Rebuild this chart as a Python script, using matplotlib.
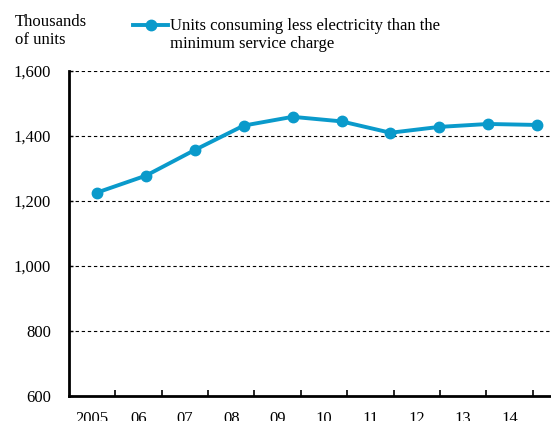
import numpy as np
import matplotlib
matplotlib.use("Agg")
import matplotlib.pyplot as plt

# Units consuming less electricity than the minimum service charge (thousands)
years = ["2005", "06", "07", "08", "09", "10", "11", "12", "13", "14"]
units = [1226, 1278, 1357, 1432, 1459, 1445, 1410, 1428, 1437, 1434]
yticks = [600, 800, 1000, 1200, 1400, 1600]

plt.rcParams['font.family'] = ['Liberation Serif', 'DejaVu Serif']
blue = '#0a9acb'
fs = 12

W, H = 551, 421
fig = plt.figure(figsize=(W / 100, H / 100), dpi=100)

left_px, right_px, top_px, bot_px = 69, 553, 71, 396
rect = [left_px / W, 1 - bot_px / H, (right_px - left_px) / W, (bot_px - top_px) / H]
ax = fig.add_axes(rect)

x = np.arange(len(units))
# points sit slightly wider apart than the category labels
pt0, pt_step = 97, 48.9
ax.set_xlim((left_px - pt0) / pt_step, (right_px - pt0) / pt_step)
ax.set_ylim(600, 1600)
ax.plot(x, units, color=blue, lw=2.8, marker='o', ms=7.5, clip_on=False, zorder=3)

ax.set_yticks(yticks)
ax.set_yticklabels([f"{v:,}" for v in yticks])
ax.tick_params(axis='y', direction='in', length=3, width=1, pad=13, labelsize=fs)
ax.set_xticks([])
for v in yticks[1:]:
    ax.axhline(v, color='black', lw=0.8, ls=(0, (3, 2.5)), zorder=1)

for s in ['right', 'top']:
    ax.spines[s].set_visible(False)
ax.spines['left'].set_linewidth(2)
ax.spines['bottom'].set_linewidth(2)

# category axis for the year labels and tick marks
ax2 = ax.twiny()
lab0, lab_step = 92, 46.4
ax2.set_xlim((left_px - lab0) / lab_step, (right_px - lab0) / lab_step)
ax2.xaxis.set_ticks_position('bottom')
ax2.set_xticks(np.arange(len(years)) + 0.5)
ax2.set_xticklabels([])
ax2.set_xticks(np.arange(len(years)), minor=True)
ax2.set_xticklabels(years, minor=True)
ax2.tick_params(axis='x', which='major', direction='in', length=4, width=1.2)
ax2.tick_params(axis='x', which='minor', length=0, pad=11, labelsize=fs)
for s in ax2.spines.values():
    s.set_visible(False)

fig.text(15 / W, 1 - 14 / H, "Thousands\nof units", ha='left', va='top',
         fontsize=fs, linespacing=1.2)

# legend drawn by hand
fig.add_artist(plt.Line2D([133 / W, 168 / W], [1 - 25 / H, 1 - 25 / H],
                          color=blue, lw=2.8))
fig.add_artist(plt.Line2D([151 / W], [1 - 25 / H], color=blue, marker='o', ms=7.5))
fig.text(170 / W, 1 - 18 / H,
         "Units consuming less electricity than the\nminimum service charge",
         ha='left', va='top', fontsize=fs, linespacing=1.2)

fig.savefig("out.png", dpi=100)
